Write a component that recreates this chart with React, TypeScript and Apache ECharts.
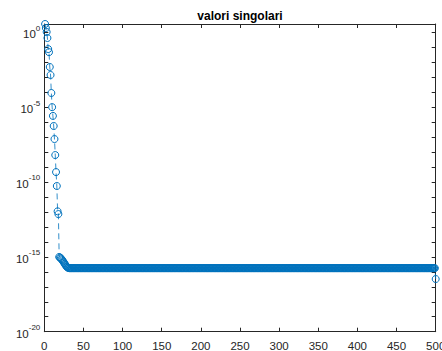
import React, { useEffect, useRef } from "react";
import * as echarts from "echarts";

// Leading singular values, sigma_1 .. sigma_18
const headValues = [
  3.58, 1.94, 1.05, 0.415, 0.076, 0.047, 4.8e-3, 1.4e-3, 8.8e-5, 1.0e-5,
  2.6e-6, 5.5e-7, 7.4e-8, 6.3e-9, 4.6e-10, 5.4e-11, 1.1e-12, 7.2e-13,
];
// Knee down to machine precision, sigma_19 .. sigma_31
const kneeValues = [
  9.8e-16, 9.0e-16, 8.0e-16, 7.0e-16, 6.0e-16, 5.0e-16, 4.2e-16, 3.5e-16,
  2.9e-16, 2.4e-16, 2.1e-16, 1.9e-16, 1.8e-16,
];
// Round-off plateau, sigma_32 .. sigma_499
const plateauValue = 1.75e-16;
const plateauCount = 468;
// Smallest singular value, sigma_500
const lastValue = 3.3e-17;

// Axis ticks
const xMin = 0;
const xMax = 500;
const xStep = 50;
const yMinExp = -20;
const yLabelExps = [0, -5, -10, -15, -20];

const AXIS_COLOR = "#262626";
const LINE_BLUE = "#0072BD";
const FONT = "'Liberation Sans', Arial, Helvetica, sans-serif";

export default function App() {
  const ref = useRef<HTMLDivElement>(null);

  useEffect(() => {
    if (!ref.current) return;
    const chart = echarts.init(ref.current, null, { renderer: "svg" });

    const sigma: number[] = [
      ...headValues,
      ...kneeValues,
      ...new Array(plateauCount).fill(plateauValue),
      lastValue,
    ];
    const points = sigma.map((s, k) => [k + 1, Math.log10(s)]);
    const yTop = Math.log10(Math.max(...sigma));

    const axisLine = { show: true, onZero: false, lineStyle: { color: AXIS_COLOR, width: 1 } };
    const axisTick = { show: true, inside: true, length: 4, lineStyle: { color: AXIS_COLOR, width: 1 } };

    const yLabel = (v: number) => {
      const r = Math.round(v);
      if (Math.abs(v - r) > 1e-9 || !yLabelExps.includes(r)) return "";
      return `{b|10}{s|${r}}`;
    };

    const option: any = {
      animation: false,
      backgroundColor: "#ffffff",
      grid: {
        left: 44.3,
        right: 6.3,
        top: 24,
        bottom: 19.3,
        containLabel: false,
        outerBoundsMode: "none",
      },
      graphic: [
        {
          type: "text",
          x: 240,
          y: 15.5,
          style: {
            text: "valori singolari",
            fontFamily: FONT,
            fontSize: 12,
            fontWeight: "bold",
            fill: "#000000",
            align: "center",
            verticalAlign: "middle",
          },
        },
      ],
      xAxis: [
        {
          type: "value",
          position: "bottom",
          min: xMin,
          max: xMax,
          interval: xStep,
          axisLine,
          axisTick,
          splitLine: { show: false },
          axisLabel: { color: AXIS_COLOR, fontSize: 11.5, fontFamily: FONT, margin: 8 },
        },
        {
          type: "value",
          position: "top",
          min: xMin,
          max: xMax,
          interval: xStep,
          axisLine,
          axisTick,
          splitLine: { show: false },
          axisLabel: { show: false },
        },
      ],
      yAxis: [
        {
          type: "value",
          position: "left",
          min: yMinExp,
          max: yTop,
          interval: 1,
          axisLine,
          axisTick,
          splitLine: { show: false },
          axisLabel: {
            margin: 4,
            formatter: yLabel,
            rich: {
              b: {
                fontSize: 11.5,
                fontFamily: FONT,
                color: AXIS_COLOR,
                lineHeight: 16,
                verticalAlign: "bottom",
              },
              s: {
                fontSize: 8,
                fontFamily: FONT,
                color: AXIS_COLOR,
                lineHeight: 16,
                verticalAlign: "top",
              },
            },
          },
        },
        {
          type: "value",
          position: "right",
          min: yMinExp,
          max: yTop,
          interval: 1,
          axisLine,
          axisTick,
          splitLine: { show: false },
          axisLabel: { show: false },
        },
      ],
      series: [
        {
          type: "line",
          xAxisIndex: 0,
          yAxisIndex: 0,
          data: points,
          symbol: "circle",
          symbolSize: 7,
          showAllSymbol: true,
          clip: false,
          lineStyle: { color: LINE_BLUE, width: 0.8, type: [6, 4] },
          itemStyle: { color: "transparent", borderColor: LINE_BLUE, borderWidth: 1 },
          emphasis: { disabled: true },
        },
      ],
    };

    chart.setOption(option);
    return () => chart.dispose();
  }, []);

  return (
    <div
      ref={ref}
      style={{ position: "fixed", left: 0, top: 0, width: 442, height: 351, background: "#fff" }}
    />
  );
}
